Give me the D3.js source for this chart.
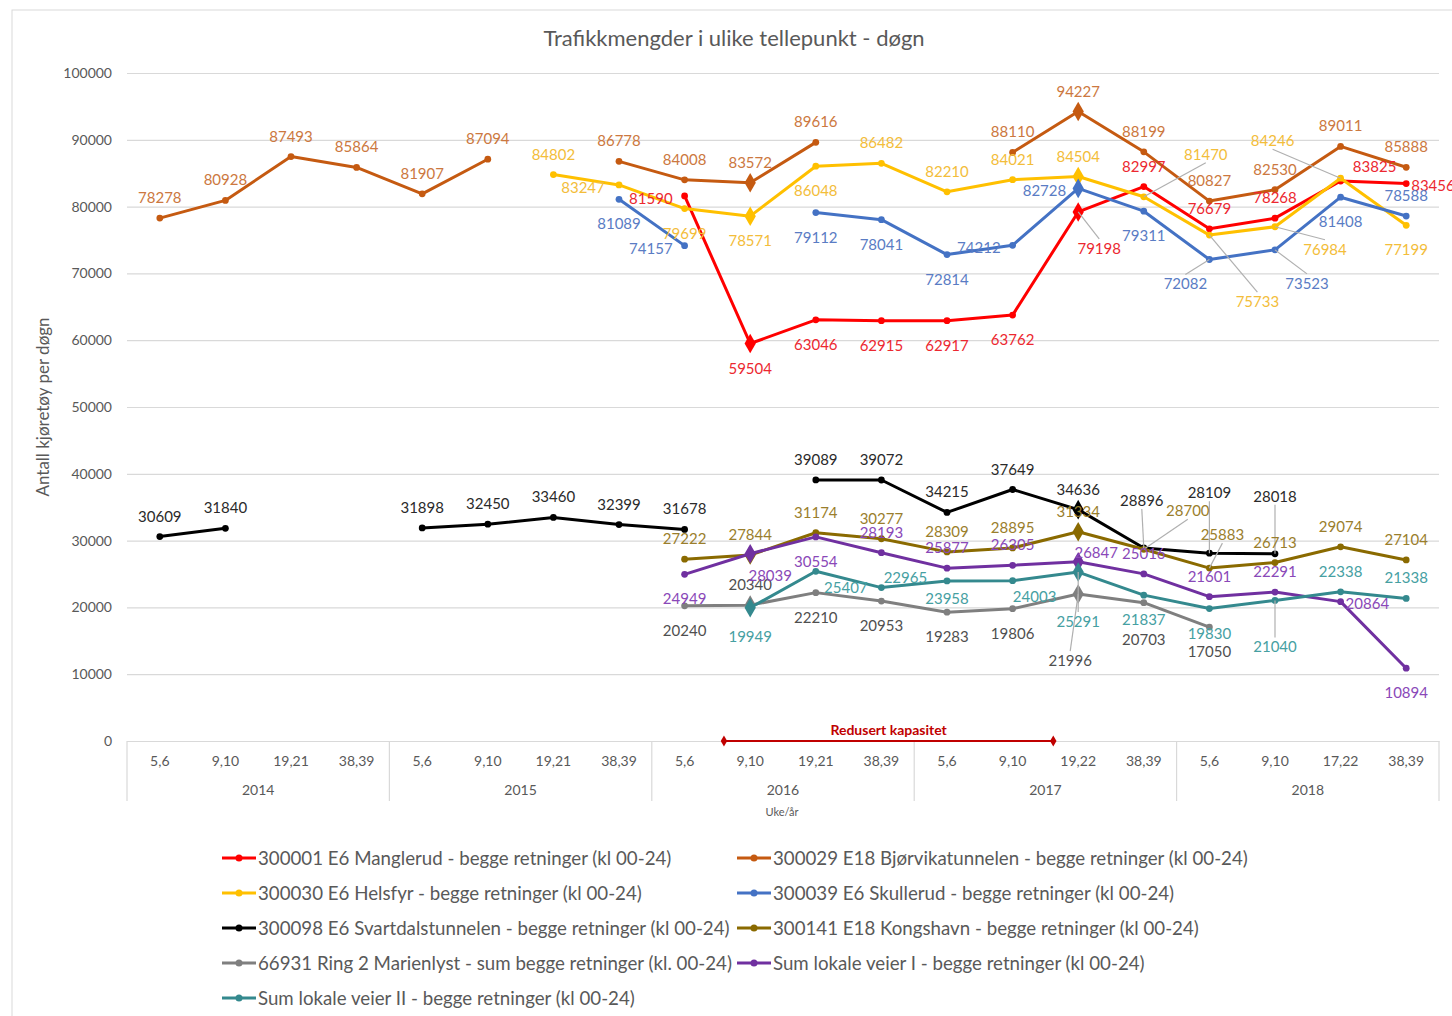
<!DOCTYPE html>
<html><head><meta charset="utf-8">
<script src="https://cdn.jsdelivr.net/npm/d3@7"></script>
<style>
html,body{margin:0;padding:0;background:#fff;}
svg{display:block;font-family:Lato,"Noto Sans",sans-serif;}
</style></head>
<body>
<svg id="chart" width="1452" height="1016"></svg>
<script>
// ---------- DATA ----------
const weekLabels = ["5,6","9,10","19,21","38,39","5,6","9,10","19,21","38,39","5,6","9,10","19,21","38,39","5,6","9,10","19,22","38,39","5,6","9,10","17,22","38,39"];
const yearLabels = ["2014","2015","2016","2017","2018"];
const yTicks = [0,10000,20000,30000,40000,50000,60000,70000,80000,90000,100000];

const manglerud   = [null,null,null,null,null,null,null,null,81590,59504,63046,62915,62917,63762,79198,82997,76679,78268,83825,83456];
const bjorvika    = [78278,80928,87493,85864,81907,87094,null,86778,84008,83572,89616,null,null,88110,94227,88199,80827,82530,89011,85888];
const helsfyr     = [null,null,null,null,null,null,84802,83247,79699,78571,86048,86482,82210,84021,84504,81470,75733,76984,84246,77199];
const skullerud   = [null,null,null,null,null,null,null,81089,74157,null,79112,78041,72814,74212,82728,79311,72082,73523,81408,78588];
const svartdal    = [30609,31840,null,null,31898,32450,33460,32399,31678,null,39089,39072,34215,37649,34636,28896,28109,28018,null,null];
const kongshavn   = [null,null,null,null,null,null,null,null,27222,27844,31174,30277,28309,28895,31334,28700,25883,26713,29074,27104];
const marienlyst  = [null,null,null,null,null,null,null,null,20240,20340,22210,20953,19283,19806,21996,20703,17050,null,null,null];
const lokaleVeierI  = [null,null,null,null,null,null,null,null,24949,28039,30554,28193,25877,26305,26847,25016,21601,22291,20864,10894];
const lokaleVeierII = [null,null,null,null,null,null,null,null,null,19949,25407,22965,23958,24003,25291,21837,19830,21040,22338,21338];

const seriesNames = [
  "300001 E6 Manglerud - begge retninger (kl 00-24)",
  "300029 E18 Bjørvikatunnelen - begge retninger (kl 00-24)",
  "300030 E6 Helsfyr - begge retninger (kl 00-24)",
  "300039 E6 Skullerud - begge retninger (kl 00-24)",
  "300098 E6 Svartdalstunnelen - begge retninger (kl 00-24)",
  "300141 E18 Kongshavn - begge retninger (kl 00-24)",
  "66931 Ring 2 Marienlyst - sum begge retninger (kl. 00-24)",
  "Sum lokale veier I - begge retninger (kl 00-24)",
  "Sum lokale veier II - begge retninger (kl 00-24)"
];
const seriesValues = [manglerud,bjorvika,helsfyr,skullerud,svartdal,kongshavn,marienlyst,lokaleVeierI,lokaleVeierII];
const highlightIdx = [9,14];           // diamond markers
const reducedCapacity = [8.6, 13.62];  // category span of "Redusert kapasitet"
const reducedLabel = "Redusert kapasitet";

// ---------- STYLE ----------
const lineColors  = ["#ff0000","#c55a11","#ffc000","#4472c4","#000000","#8a6a00","#7f7f7f","#7030a0","#34898e"];
const labelColors = ["#ec2830","#cc7840","#f3bd3a","#5a7cc4","#2a2a2a","#9a7e2c","#4f4f4f","#8a48b8","#46a0a2"];
// label placement: default above; overrides by index: code or [dx,dy,leader]
const labelPlace = [
  {8:"l",9:"b",10:"b",11:"b",12:"b",13:"b",14:[21,36,1],18:[34,-15],19:"r"},
  {},
  {7:[-36,2],8:"b",9:"b",10:"b",19:"b",15:[62,-43,1],16:[48,66,1],17:[50,22,1],18:[-68,-38,1]},
  {7:"b",8:"l",10:"b",11:"b",12:"b",13:"l",14:"l",15:"b",16:[-24,24,1],17:[32,33,1],18:"b"},
  {15:[-2,-48,1],16:[0,-61,1],17:[0,-58,1]},
  {15:[44,-39,1],16:[13,-34,1]},
  {8:"b",10:"b",11:"b",12:"b",13:"b",14:[-8,66,1],15:[0,36],16:"b"},
  {8:"b",9:[20,21],10:"b",14:[18,-10],18:"r",19:"b"},
  {9:[0,28],10:[30,16],11:[24,-11],12:[0,17],13:[22,15],14:[0,49,1],15:"b",16:"b",17:[0,46,1]}
];

// ---------- LAYOUT ----------
const svg = d3.select("#chart");
const plot = {left:127, right:1439, top:73, bottom:741};
svg.append("rect").attr("x",12).attr("y",10).attr("width",1460).attr("height",1030)
  .attr("fill","#fff").attr("stroke","#d9d9d9").attr("stroke-width",1);

const x = d3.scaleBand().domain(d3.range(weekLabels.length)).range([plot.left, plot.right]);
const xc = i => x(i) + x.bandwidth()/2;
const xf = d3.scaleLinear().domain([0, weekLabels.length-1]).range([xc(0), xc(weekLabels.length-1)]);
const y = d3.scaleLinear().domain([0,100000]).range([plot.bottom, plot.top]);

// title
svg.append("text").attr("x",734).attr("y",46).attr("text-anchor","middle")
  .attr("font-size",22).attr("fill","#595959").text("Trafikkmengder i ulike tellepunkt - døgn");

// gridlines + y axis
const yAxis = d3.axisLeft(y).tickValues(yTicks).tickSize(-(plot.right-plot.left)).tickFormat(d3.format("d"));
const gy = svg.append("g").attr("transform",`translate(${plot.left},0)`).call(yAxis);
gy.select(".domain").remove();
gy.selectAll(".tick line").attr("stroke","#d9d9d9").attr("stroke-width",1.2);
gy.selectAll(".tick text").attr("x",-15).attr("font-size",14).attr("fill","#595959")
  .attr("font-family","Lato,'Noto Sans',sans-serif");

svg.append("text").attr("transform","translate(49,407) rotate(-90)").attr("text-anchor","middle")
  .attr("font-size",17).attr("fill","#595959").text("Antall kjøretøy per døgn");

// x axis (categories)
const xAxis = d3.axisBottom(x).tickSize(0).tickFormat(i => weekLabels[i]);
const gx = svg.append("g").attr("transform",`translate(0,${plot.bottom})`).call(xAxis);
gx.select(".domain").attr("stroke","#d9d9d9").attr("stroke-width",1.2);
gx.selectAll(".tick text").attr("dy",0).attr("y",25).attr("font-size",14).attr("fill","#595959")
  .attr("font-family","Lato,'Noto Sans',sans-serif");

const perYear = weekLabels.length / yearLabels.length;
yearLabels.forEach((yr,k) => {
  const x0 = x(k*perYear), x1 = x((k+1)*perYear-1) + x.bandwidth();
  svg.append("text").attr("x",(x0+x1)/2).attr("y",795).attr("text-anchor","middle")
    .attr("font-size",14).attr("fill","#595959").text(yr);
});
d3.range(yearLabels.length+1).forEach(k => {
  const xx = k < yearLabels.length ? x(k*perYear) : plot.right;
  svg.append("line").attr("x1",xx).attr("x2",xx).attr("y1",plot.bottom).attr("y2",801)
    .attr("stroke","#d9d9d9").attr("stroke-width",1.2);
});
svg.append("text").attr("x",782).attr("y",816).attr("text-anchor","middle")
  .attr("font-size",11).attr("fill","#595959").text("Uke/år");

// reduced capacity annotation
const rc = svg.append("g");
rc.append("line").attr("x1",xf(reducedCapacity[0])).attr("x2",xf(reducedCapacity[1]))
  .attr("y1",plot.bottom).attr("y2",plot.bottom).attr("stroke","#c00000").attr("stroke-width",2);
reducedCapacity.forEach(v => {
  rc.append("path").attr("d",d3.symbol(d3.symbolDiamond,36)())
    .attr("transform",`translate(${xf(v)},${plot.bottom})`).attr("fill","#c00000");
});
rc.append("text").attr("x",(xf(reducedCapacity[0])+xf(reducedCapacity[1]))/2).attr("y",plot.bottom-6)
  .attr("text-anchor","middle").attr("font-size",14).attr("font-weight","bold").attr("fill","#c00000")
  .text(reducedLabel);

// series
const line = d3.line().defined(d => d.v != null).x(d => xc(d.i)).y(d => y(d.v));
const seriesG = svg.append("g");
seriesValues.forEach((vals,s) => {
  const pts = vals.map((v,i) => ({i,v}));
  seriesG.append("path").datum(pts).attr("d",line).attr("fill","none")
    .attr("stroke",lineColors[s]).attr("stroke-width",3).attr("stroke-linejoin","round");
  pts.filter(d => d.v != null).forEach(d => {
    const hi = highlightIdx.includes(d.i);
    seriesG.append("path")
      .attr("d", hi ? d3.symbol(d3.symbolDiamond,110)() : d3.symbol(d3.symbolCircle,36)())
      .attr("transform",`translate(${xc(d.i)},${y(d.v)})`).attr("fill",lineColors[s]);
  });
});

// data labels
const labelG = svg.append("g");
seriesValues.forEach((vals,s) => {
  vals.forEach((v,i) => {
    if (v == null) return;
    const px = xc(i), py = y(v);
    const p = labelPlace[s][i] || "a";
    let lx = px, ly = py - 21, anchor = "middle", leader = false;
    if (p === "b") { ly = py + 24; }
    else if (p === "l") { lx = px - 12; ly = py + 2; anchor = "end"; }
    else if (p === "r") { lx = px + 5; ly = py + 1; anchor = "start"; }
    else if (Array.isArray(p)) { lx = px + p[0]; ly = py + p[1]; leader = !!p[2]; }
    if (leader) {
      const ey = ly + (py > ly ? 9 : -9);
      labelG.append("line").attr("x1",lx).attr("y1",ey).attr("x2",px).attr("y2",py)
        .attr("stroke","#b0b0b0").attr("stroke-width",1.2);
    }
    labelG.append("text").attr("x",lx).attr("y",ly).attr("text-anchor",anchor)
      .attr("dominant-baseline","central").attr("font-size",15).attr("fill",labelColors[s])
      .text(v);
  });
});

// legend
const legendCols = [222, 737];
const legendRows = [858, 893, 928, 963, 998];
const lg = svg.append("g");
seriesNames.forEach((name,s) => {
  const cx = legendCols[s % 2], cy = legendRows[Math.floor(s/2)];
  lg.append("line").attr("x1",cx).attr("x2",cx+34).attr("y1",cy).attr("y2",cy)
    .attr("stroke",lineColors[s]).attr("stroke-width",3);
  lg.append("circle").attr("cx",cx+17).attr("cy",cy).attr("r",3.5).attr("fill",lineColors[s]);
  lg.append("text").attr("x",cx+36).attr("y",cy).attr("dominant-baseline","central")
    .attr("font-size",18.7).attr("fill","#595959").text(name);
});
</script>
</body></html>
